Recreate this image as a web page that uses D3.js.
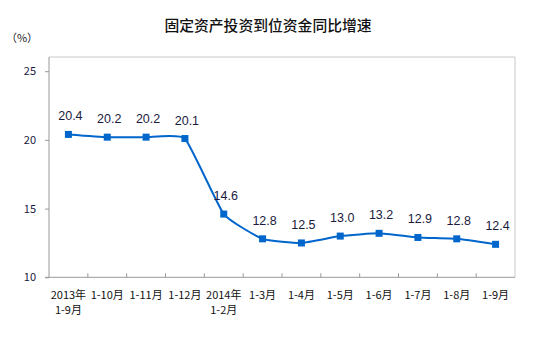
<!DOCTYPE html>
<html>
<head>
<meta charset="utf-8">
<script src="https://cdn.jsdelivr.net/npm/d3@7/dist/d3.min.js"></script>
<style>
  html, body { margin: 0; padding: 0; background: #fff; }
  svg { display: block; }
</style>
</head>
<body>
<svg id="chart" width="553" height="343"></svg>
<script>
// Period labels (two lines where a year starts)
const categories = [
  ["2013年", "1-9月"], ["1-10月"], ["1-11月"], ["1-12月"],
  ["2014年", "1-2月"], ["1-3月"], ["1-4月"], ["1-5月"],
  ["1-6月"], ["1-7月"], ["1-8月"], ["1-9月"]
];
// Year-on-year growth of funds in place for fixed asset investment (%)
const values = [20.4, 20.2, 20.2, 20.1, 14.6, 12.8, 12.5, 13.0, 13.2, 12.9, 12.8, 12.4];
const yTicks = [10, 15, 20, 25];

const svg = d3.select("#chart");
const plotLeft = 49, plotRight = 515, plotTop = 57, plotBottom = 277.3;
const cjk = "'Noto Sans CJK SC', 'Noto Sans', sans-serif";

const x = d3.scaleBand().domain(d3.range(values.length)).range([plotLeft, plotRight]);
const y = d3.scaleLinear().domain([10, 25]).range([plotBottom, 71.2]);
const cx = i => x(i) + x.bandwidth() / 2;

// Title
svg.append("text")
  .attr("x", 268).attr("y", 31)
  .attr("text-anchor", "middle")
  .attr("font-family", cjk).attr("font-size", 14.8).attr("font-weight", 500)
  .attr("fill", "#111")
  .text("固定资产投资到位资金同比增速");

// Unit label
svg.append("text")
  .attr("x", 22).attr("y", 42)
  .attr("text-anchor", "middle")
  .attr("font-family", cjk).attr("font-size", 11)
  .attr("fill", "#222")
  .text("（%）");

// Plot frame (top and right edges)
svg.append("path")
  .attr("d", `M${plotLeft},${plotTop}H${plotRight}V${plotBottom}`)
  .attr("fill", "none").attr("stroke", "#c8c8c8").attr("stroke-width", 1);

// Y axis
const yAxis = svg.append("g")
  .attr("transform", `translate(${plotLeft},0)`)
  .call(d3.axisLeft(y).tickValues(yTicks).tickSize(4).tickPadding(9).tickFormat(d3.format("d")));
yAxis.select(".domain").attr("stroke", "#999").attr("d", `M-4,${plotBottom}H0V${plotTop}`);
yAxis.selectAll(".tick line").attr("stroke", "#999");
yAxis.selectAll(".tick text")
  .attr("font-family", cjk).attr("font-size", 11).attr("fill", "#1a1a40");

// X axis: ticks on band boundaries, pointing inward
const xAxisG = svg.append("g").attr("transform", `translate(0,${plotBottom})`);
xAxisG.append("line")
  .attr("x1", plotLeft).attr("x2", plotRight)
  .attr("stroke", "#999");
const boundaries = d3.range(1, values.length).map(i => x(i));
xAxisG.selectAll("line.tick")
  .data(boundaries)
  .join("line")
  .attr("class", "tick")
  .attr("x1", d => d).attr("x2", d => d)
  .attr("y1", 0).attr("y2", -4)
  .attr("stroke", "#999");

// X labels
const xl = svg.append("g")
  .attr("font-family", cjk).attr("font-size", 11).attr("fill", "#111")
  .attr("text-anchor", "middle");
categories.forEach((lines, i) => {
  const t = xl.append("text")
    .attr("x", cx(i))
    .attr("y", plotBottom + 22);
  lines.forEach((s, j) => {
    t.append("tspan")
      .attr("x", cx(i))
      .attr("dy", j === 0 ? 0 : 15)
      .text(s);
  });
});

// Line with light smoothing
const line = d3.line()
  .x((d, i) => cx(i))
  .y(d => y(d))
  .curve(d3.curveCardinal.tension(0.6));
svg.append("path")
  .datum(values)
  .attr("d", line)
  .attr("fill", "none")
  .attr("stroke", "#0066cc")
  .attr("stroke-width", 2);

// Square markers
const ms = 7;
svg.selectAll("rect.marker")
  .data(values)
  .join("rect")
  .attr("class", "marker")
  .attr("x", (d, i) => cx(i) - ms / 2)
  .attr("y", d => y(d) - ms / 2)
  .attr("width", ms).attr("height", ms)
  .attr("fill", "#0066cc");

// Value labels
svg.selectAll("text.val")
  .data(values)
  .join("text")
  .attr("class", "val")
  .attr("x", (d, i) => cx(i) + 2)
  .attr("y", d => y(d) - 14)
  .attr("text-anchor", "middle")
  .attr("font-family", "'Liberation Sans', Arial, sans-serif")
  .attr("font-size", 12.5)
  .attr("fill", "#1a1a40")
  .text(d => d.toFixed(1));
</script>
</body>
</html>
